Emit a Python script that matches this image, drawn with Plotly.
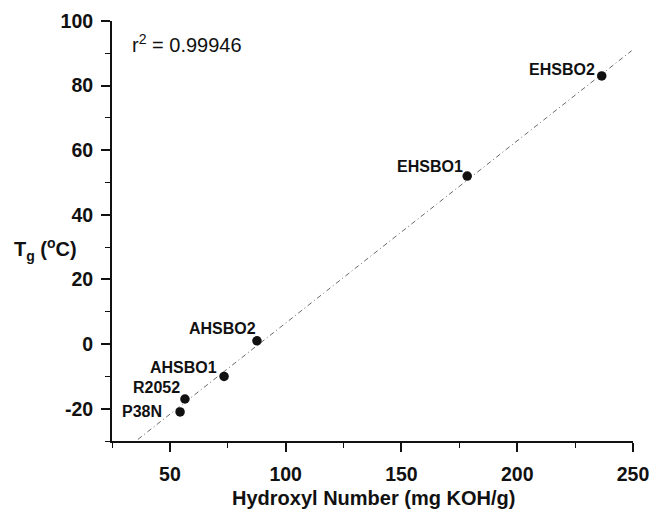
import plotly.graph_objects as go

# Data
sample_names = ["P38N", "R2052", "AHSBO1", "AHSBO2", "EHSBO1", "EHSBO2"]
hydroxyl_number = [54.4, 56.5, 73.4, 87.6, 178.4, 236.5]
tg_celsius = [-21, -17, -10, 1, 52, 83]

# Linear fit line endpoints
fit_x = [36.2, 249.4]
fit_y = [-29.5, 90.8]

x_tick_values = [50, 100, 150, 200, 250]
y_tick_values = [-20, 0, 20, 40, 60, 80, 100]
x_tick_labels = ["50", "100", "150", "200", "250"]
y_tick_labels = ["-20", "0", "20", "40", "60", "80", "100"]

r2_text = "r<sup>2</sup> = 0.99946"

FONT = "Liberation Sans, Arial, sans-serif"

W, H = 650, 510
L, T = 112, 21
R = W - 633
B = H - 441
plot_w = W - L - R
plot_h = H - T - B

# label offsets in pixels (style, not data)
label_shift = {
    "P38N": (-16, 0),
    "R2052": (-3, 12),
    "AHSBO1": (-5, 9),
    "AHSBO2": (1, 12),
    "EHSBO1": (-2, 10),
    "EHSBO2": (-5, 6),
}

fig = go.Figure()

fig.add_trace(go.Scatter(
    x=fit_x, y=fit_y, mode="lines",
    line=dict(color="#6a6a6a", width=1, dash="5px,3px,1px,3px"),
    hoverinfo="skip", showlegend=False,
))

fig.add_trace(go.Scatter(
    x=hydroxyl_number, y=tg_celsius, mode="markers",
    marker=dict(color="#111111", size=9.5),
    showlegend=False,
))

for name, xv, yv in zip(sample_names, hydroxyl_number, tg_celsius):
    dx, dy = label_shift[name]
    fig.add_annotation(
        x=xv, y=yv, xref="x", yref="y", text=name, showarrow=False,
        xanchor="right", yanchor="middle", xshift=dx, yshift=dy,
        font=dict(family=FONT, size=16, color="#111111", weight="bold"),
    )

# r^2 text (left edge at page x=130, centre at page y=43)
fig.add_annotation(
    x=(130 - L) / plot_w, y=(441 - 43) / plot_h, xref="paper", yref="paper",
    text=r2_text, showarrow=False, xanchor="left", yanchor="middle",
    font=dict(family=FONT, size=20, color="#111111"),
)

# y-axis title, horizontal (left edge at page x=12, centre at page y=249)
fig.add_annotation(
    x=(12 - L) / plot_w, y=(441 - 249) / plot_h, xref="paper", yref="paper",
    text="T<sub>g</sub> (<sup>o</sup>C)",
    showarrow=False, xanchor="left", yanchor="middle",
    font=dict(family=FONT, size=20, color="#111111", weight="bold"),
)

# x-axis title (centre at page x=373, page y=498)
fig.add_annotation(
    x=(373 - L) / plot_w, y=(441 - 498) / plot_h, xref="paper", yref="paper",
    text="Hydroxyl Number (mg KOH/g)",
    showarrow=False, xanchor="center", yanchor="middle",
    font=dict(family=FONT, size=20, color="#111111", weight="bold"),
)

fig.update_layout(
    width=W, height=H, autosize=False,
    margin=dict(l=L, r=R, t=T, b=B, autoexpand=False),
    paper_bgcolor="white", plot_bgcolor="white",
    font=dict(family=FONT, size=18, color="#111111"),
)

fig.update_xaxes(
    range=[25, 250], tickmode="array", tickvals=x_tick_values, ticktext=x_tick_labels,
    automargin=False,
    showline=True, linecolor="#111111", linewidth=2,
    ticks="outside", ticklen=9, tickwidth=1.5, tickcolor="#111111",
    ticklabelstandoff=6,
    minor=dict(ticks="outside", ticklen=5, tickwidth=1.2, dtick=25, tick0=0, tickcolor="#111111"),
    showgrid=False, zeroline=False,
    tickfont=dict(family=FONT, size=19.5, color="#111111", weight="bold"),
)

fig.update_yaxes(
    range=[-30, 100], tickmode="array", tickvals=y_tick_values, ticktext=y_tick_labels,
    automargin=False,
    showline=True, linecolor="#111111", linewidth=2,
    ticks="outside", ticklen=9, tickwidth=1.5, tickcolor="#111111",
    ticklabelstandoff=4,
    minor=dict(ticks="outside", ticklen=5, tickwidth=1.2, dtick=10, tick0=0, tickcolor="#111111"),
    showgrid=False, zeroline=False,
    tickfont=dict(family=FONT, size=19.5, color="#111111", weight="bold"),
)

fig.write_html(
    "out.html",
    config={"displayModeBar": False},
    post_script="document.body.style.margin='0';document.body.style.overflow='hidden';",
)
